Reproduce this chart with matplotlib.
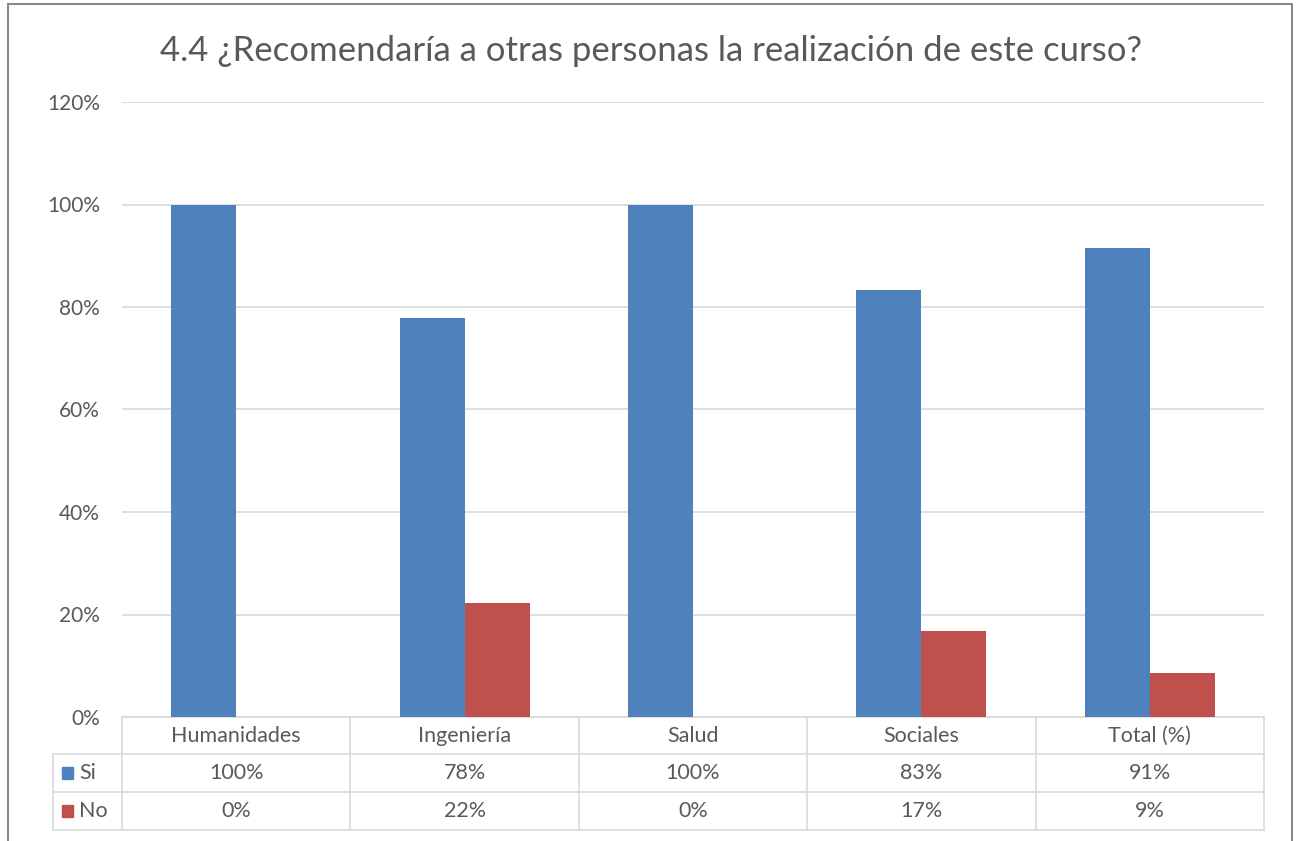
import numpy as np
import matplotlib.pyplot as plt
from matplotlib.patches import Rectangle
from matplotlib.transforms import blended_transform_factory

categorias = ['Humanidades', 'Ingeniería', 'Salud', 'Sociales', 'Total (%)']
si = [1.00, 0.778, 1.00, 0.833, 0.915]
no = [0.00, 0.222, 0.00, 0.167, 0.085]
si_txt = ['100%', '78%', '100%', '83%', '91%']
no_txt = ['0%', '22%', '0%', '17%', '9%']
titulo = '4.4 ¿Recomendaría a otras personas la realización de este curso?'

azul = '#4F81BD'
rojo = '#C0504D'
gris = '#595959'
linea = '#D9D9D9'

plt.rcParams['font.family'] = ['Lato', 'DejaVu Sans']

W, H = 1301, 841
fig = plt.figure(figsize=(W / 100, H / 100), dpi=100)
ax = fig.add_axes([122 / W, 1 - 717 / H, (1264 - 122) / W, (717 - 102) / H])

x = np.arange(len(categorias))
ancho = 0.285
ax.bar(x - ancho / 2, si, ancho, color=azul, zorder=3)
ax.bar(x + ancho / 2, no, ancho, color=rojo, zorder=3)

ax.set_xlim(-0.5, len(categorias) - 0.5)
ax.set_ylim(0, 1.2)
ax.set_yticks(np.arange(0, 1.21, 0.2))
ax.set_yticklabels([f'{int(round(v * 100))}%' for v in np.arange(0, 1.21, 0.2)])
ax.tick_params(axis='y', length=0, pad=16, labelsize=15, labelcolor=gris)
ax.set_xticks([])
ax.grid(axis='y', color=linea, linewidth=1.2, zorder=0)
for s in ax.spines.values():
    s.set_visible(False)

# tabla de datos
tr = blended_transform_factory(ax.transData, ax.transAxes)
ah = 615
filas = [0, -37 / ah, -75 / ah, -113 / ah]
izq = (53 - 122) / (1264 - 122)
kw = dict(color=linea, linewidth=1.2, clip_on=False)
ax.plot([-0.5, 4.5], [filas[0]] * 2, transform=tr, **kw)
for f in filas[1:]:
    ax.plot([izq, 1], [f] * 2, transform=ax.transAxes, **kw)
for b in np.arange(-0.5, 5, 1):
    ax.plot([b, b], [filas[0], filas[3]], transform=tr, **kw)
ax.plot([izq, izq], [filas[1], filas[3]], transform=ax.transAxes, **kw)

fs = 15.5
for i, c in enumerate(categorias):
    ax.text(i, (filas[0] + filas[1]) / 2, c, transform=tr, ha='center',
            va='center', fontsize=fs, color=gris)
    ax.text(i, (filas[1] + filas[2]) / 2, si_txt[i], transform=tr, ha='center',
            va='center', fontsize=fs, color=gris)
    ax.text(i, (filas[2] + filas[3]) / 2, no_txt[i], transform=tr, ha='center',
            va='center', fontsize=fs, color=gris)

for nombre, col, y0, y1 in [('Si', azul, filas[1], filas[2]), ('No', rojo, filas[2], filas[3])]:
    ym = (y0 + y1) / 2
    ax.add_patch(Rectangle((izq + 9 / 1142, ym - 6 / ah), 11 / 1142, 12 / ah,
                           transform=ax.transAxes, color=col, clip_on=False))
    ax.text(izq + 26 / 1142, ym, nombre, transform=ax.transAxes, ha='left',
            va='center', fontsize=fs, color=gris)

fig.text(651 / W, 1 - 51 / H, titulo, ha='center', va='center',
         fontsize=25, color=gris)

fig.patches.append(Rectangle((8 / W, -0.01), (1292 - 8) / W, 1 - 4 / H + 0.01,
                             transform=fig.transFigure, fill=False,
                             edgecolor='#898989', linewidth=1.5))

fig.savefig('out.png', dpi=100)
